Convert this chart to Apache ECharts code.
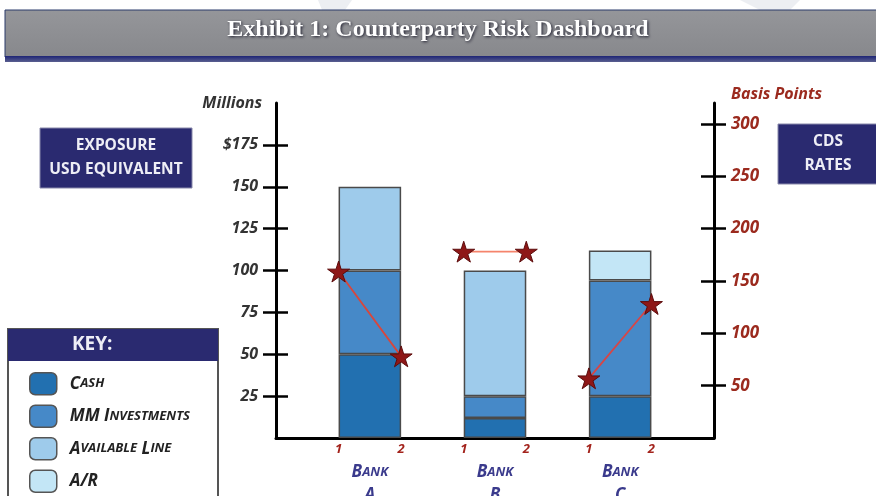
<!DOCTYPE html>
<html>
<head>
<meta charset="utf-8">
<script src="https://cdn.jsdelivr.net/npm/echarts@6/dist/echarts.min.js"></script>
<style>
  html, body { margin: 0; padding: 0; background: #fff; }
  #container { width: 876px; height: 496px; }
</style>
</head>
<body>
<div id="container"></div>
<script>
// categories on the bar axis: gaps between the banks are empty slots
var slots = ['', 'A', '', 'B', '', 'C', ''];
var banks = ['A', 'B', 'C'];

// exposure, millions USD (one value per bank)
var cash = [50, 12, 25];
var mmInvest = [50, 13, 69];
var availLine = [50, 75, 0];
var ar = [0, 0, 18];

// CDS rates, basis points: point 1 and point 2 for each bank
var cdsA = [159, 78];
var cdsB = [178, 178];
var cdsC = [57, 128];

var leftTicks = [25, 50, 75, 100, 125, 150, 175];
var rightTicks = [50, 100, 150, 200, 250, 300];

var keyNames = ['Cash', 'MM Investments', 'Available Line', 'A/R'];

// put bank values into the 7 slot category axis
function toSlots(arr) {
  var out = [];
  for (var i = 0; i < slots.length; i++) {
    var b = banks.indexOf(slots[i]);
    if (b < 0 || !arr[b]) out.push('-');
    else out.push(arr[b]);
  }
  return out;
}

// small caps through rich text: capital letters big, rest small uppercase
function smallCaps(txt) {
  var s = '';
  for (var i = 0; i < txt.length; i++) {
    var c = txt[i];
    if (c === ' ') s += '{b| }';
    else if (c === c.toUpperCase()) s += '{b|' + c + '}';
    else s += '{s|' + c.toUpperCase() + '}';
  }
  return s;
}

var starPath = 'path://M50,0 L61,35 L98,35 L68,57 L79,91 L50,70 L21,91 L32,57 L2,35 L39,35 Z';

var dom = document.getElementById('container');
var myChart = echarts.init(dom);
var option = null;

function barSeries(name, arr, color) {
  return {
    name: name,
    type: 'bar',
    stack: 'exp',
    xAxisIndex: 0,
    yAxisIndex: 0,
    barWidth: '100%',
    data: toSlots(arr),
    itemStyle: { color: color, borderColor: '#4a4a4a', borderWidth: 1.5 },
    emphasis: { disabled: true },
    z: 2
  };
}
function cdsSeries(name, pts, lineColor, bankIdx) {
  var x0 = 1 + bankIdx * 2;
  return {
    name: name,
    type: 'line',
    xAxisIndex: 1,
    yAxisIndex: 2,
    data: [[x0, pts[0]], [x0 + 1, pts[1]]],
    symbol: starPath,
    symbolSize: 22,
    symbolKeepAspect: true,
    lineStyle: { color: lineColor, width: 1.8 },
    itemStyle: { color: '#8e1717', borderColor: '#5c0c0c', borderWidth: 1 },
    z: 5
  };
}

option = {
  animation: false,
  backgroundColor: '#ffffff',
  grid: { left: 276, right: 162, top: 103, bottom: 58, outerBoundsMode: 'none', containLabel: false },
  legend: {
    data: keyNames,
    orient: 'vertical',
    left: 29,
    top: 372,
    padding: 0,
    itemWidth: 27,
    itemHeight: 22,
    itemGap: 9,
    selectedMode: false,
    icon: 'roundRect',
    itemStyle: { borderColor: '#555', borderWidth: 1.5 },
    formatter: function (name) { return smallCaps(name); },
    textStyle: {
      padding: [0, 0, 0, 8],
      rich: {
        b: { fontFamily: 'Open Sans', fontStyle: 'italic', fontWeight: 'bold', fontSize: 17, color: '#222' },
        s: { fontFamily: 'Open Sans', fontStyle: 'italic', fontWeight: 'bold', fontSize: 13, color: '#222' }
      }
    }
  },
  xAxis: [
    {
      type: 'category',
      data: slots,
      position: 'bottom',
      axisLine: { show: true, lineStyle: { color: '#000', width: 3 } },
      axisTick: { show: false },
      axisLabel: {
        margin: 23,
        interval: 0,
        lineHeight: 23,
        formatter: function (v) { return v ? '{b|B}{s|ANK}\n{b|' + v + '}' : ''; },
        rich: {
          b: { fontFamily: 'Open Sans', fontStyle: 'italic', fontWeight: 'bold', fontSize: 17, color: '#3a3a8c' },
          s: { fontFamily: 'Open Sans', fontStyle: 'italic', fontWeight: 'bold', fontSize: 13, color: '#3a3a8c' }
        }
      },
      splitLine: { show: false }
    },
    {
      type: 'value',
      min: 0,
      max: 7,
      interval: 1,
      position: 'bottom',
      axisLine: { show: false },
      axisTick: { show: false },
      splitLine: { show: false },
      axisLabel: {
        margin: 5,
        formatter: function (v) {
          if (v < 1 || v > 6) return '';
          return (v % 2 === 1) ? '1' : '2';
        },
        fontFamily: 'Open Sans', fontStyle: 'italic', fontWeight: 'bold', fontSize: 13, color: '#a3231c'
      }
    }
  ],
  yAxis: [
    {
      type: 'value',
      position: 'left',
      min: 0,
      max: 200,
      interval: 25,
      name: 'Millions',
      nameLocation: 'end',
      nameGap: 0,
      nameTextStyle: {
        align: 'right', verticalAlign: 'middle', padding: [0, 14, 0, 0],
        fontFamily: 'Open Sans', fontStyle: 'italic', fontWeight: 'bold', fontSize: 16, color: '#333'
      },
      axisLine: { show: true, lineStyle: { color: '#000', width: 3 } },
      axisTick: { show: true, customValues: leftTicks, length: 13, lineStyle: { color: '#000', width: 2.5 } },
      axisLabel: {
        customValues: leftTicks,
        margin: 18,
        formatter: function (v) { return v === 175 ? '$' + v : '' + v; },
        fontFamily: 'Open Sans', fontStyle: 'italic', fontWeight: 'bold', fontSize: 16, color: '#333'
      },
      splitLine: { show: false }
    },
    {
      type: 'value',
      position: 'left',
      min: 0,
      max: 200,
      interval: 25,
      axisLine: { show: false },
      axisTick: { show: true, inside: true, customValues: leftTicks, length: 12, lineStyle: { color: '#000', width: 2.5 } },
      axisLabel: { show: false },
      splitLine: { show: false }
    },
    {
      type: 'value',
      position: 'right',
      min: 0,
      max: 320,
      interval: 50,
      name: 'Basis Points',
      nameLocation: 'end',
      nameGap: 9,
      nameTextStyle: {
        align: 'left', verticalAlign: 'middle', padding: [0, 0, 0, 17],
        fontFamily: 'Open Sans', fontStyle: 'italic', fontWeight: 'bold', fontSize: 16, color: '#9b2a1e'
      },
      axisLine: { show: true, lineStyle: { color: '#000', width: 3 } },
      axisTick: { show: true, customValues: rightTicks, length: 12, lineStyle: { color: '#000', width: 2.5 } },
      axisLabel: {
        customValues: rightTicks,
        margin: 17,
        fontFamily: 'Open Sans', fontStyle: 'italic', fontWeight: 'bold', fontSize: 17, color: '#9b2a1e'
      },
      splitLine: { show: false }
    },
    {
      type: 'value',
      position: 'right',
      min: 0,
      max: 320,
      interval: 50,
      axisLine: { show: false },
      axisTick: { show: true, inside: true, customValues: rightTicks, length: 13, lineStyle: { color: '#000', width: 2.5 } },
      axisLabel: { show: false },
      splitLine: { show: false }
    }
  ],
  graphic: [
    // faint watermark shapes above the banner
    { type: 'polygon', shape: { points: [[318, 0], [352, 0], [345, 10], [322, 10]] }, style: { fill: '#eceef2' }, z: -1 },
    { type: 'polygon', shape: { points: [[740, 0], [800, 0], [790, 10], [760, 10]] }, style: { fill: '#eceef2' }, z: -1 },
    // title banner
    { type: 'rect', shape: { x: 5, y: 10, width: 875, height: 47 },
      style: { fill: new echarts.graphic.LinearGradient(0, 0, 0, 1, [{ offset: 0, color: '#95969a' }, { offset: 1, color: '#87888c' }]),
               stroke: '#2b3a6a', lineWidth: 1 }, z: 0 },
    { type: 'rect', shape: { x: 5, y: 56, width: 875, height: 6 },
      style: { fill: new echarts.graphic.LinearGradient(0, 0, 0, 1, [{ offset: 0, color: '#1d2475' }, { offset: 1, color: '#5a5f8f' }]) }, z: 0 },
    { type: 'text', left: 'center', top: 18, z: 2,
      style: { text: 'Exhibit 1: Counterparty Risk Dashboard', fill: '#ffffff',
               font: 'bold 24px "Liberation Serif"', textShadowColor: '#1c1c2c', textShadowBlur: 3, textShadowOffsetX: 1, textShadowOffsetY: 1 } },
    // exposure box
    { type: 'rect', shape: { x: 40, y: 128, width: 152, height: 60 }, style: { fill: '#2a2a70', stroke: '#8888aa', lineWidth: 1 }, z: 1 },
    { type: 'text', x: 116, y: 158, z: 2,
      style: { text: 'EXPOSURE\nUSD EQUIVALENT', fill: '#eeeef6', align: 'center', verticalAlign: 'middle',
               font: 'bold 15.5px "Open Sans"', lineHeight: 24 } },
    // cds box
    { type: 'rect', shape: { x: 778, y: 124, width: 100, height: 60 }, style: { fill: '#2a2a70', stroke: '#8888aa', lineWidth: 1 }, z: 1 },
    { type: 'text', x: 828, y: 154, z: 2,
      style: { text: 'CDS\nRATES', fill: '#eeeef6', align: 'center', verticalAlign: 'middle',
               font: 'bold 15.5px "Open Sans"', lineHeight: 24 } },
    // key box
    { type: 'rect', shape: { x: 8, y: 329, width: 210, height: 172 }, style: { fill: '#ffffff', stroke: '#555', lineWidth: 2 }, z: 0 },
    { type: 'rect', shape: { x: 8, y: 329, width: 210, height: 32 }, style: { fill: '#2a2a70' }, z: 1 },
    { type: 'text', x: 72, y: 345, z: 2,
      style: { text: 'KEY:', fill: '#eeeef6', verticalAlign: 'middle', font: 'bold 19px "Open Sans"' } }
  ],
  series: [
    barSeries('Cash', cash, '#2270b0'),
    barSeries('MM Investments', mmInvest, '#4689c8'),
    barSeries('Available Line', availLine, '#9ecbeb'),
    barSeries('A/R', ar, '#c3e6f6'),
    cdsSeries('CDS A', cdsA, '#d8463c', 0),
    cdsSeries('CDS B', cdsB, '#f5846c', 1),
    cdsSeries('CDS C', cdsC, '#d84545', 2)
  ]
};

if (option && typeof option === 'object') {
  myChart.setOption(option, true);
}
</script>
</body>
</html>
